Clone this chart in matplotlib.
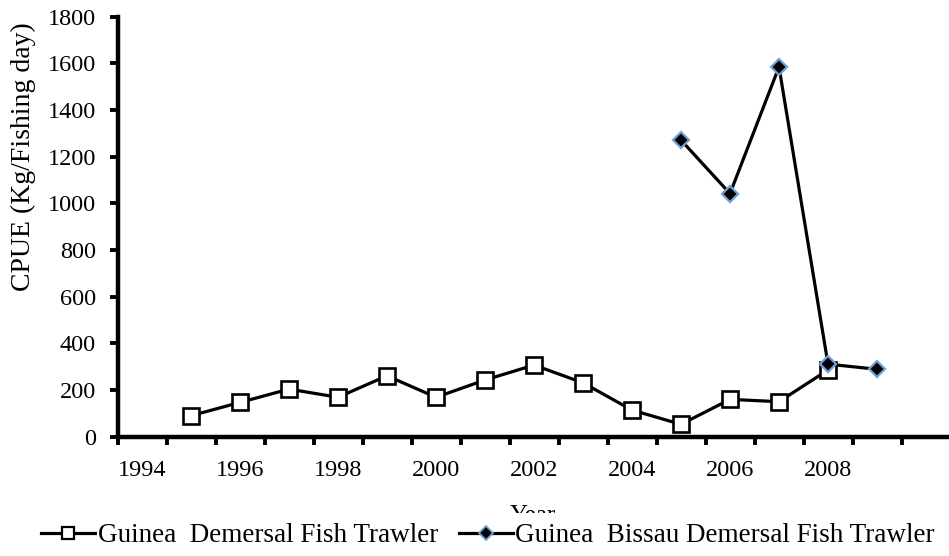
import matplotlib
matplotlib.use("Agg")
import matplotlib.pyplot as plt
from matplotlib.ticker import FixedLocator, NullFormatter
from matplotlib.lines import Line2D
from matplotlib.patches import Rectangle

plt.rcParams['font.family'] = ['Liberation Serif', 'DejaVu Serif']

years_guinea = [1995, 1996, 1997, 1998, 1999, 2000, 2001, 2002, 2003, 2004, 2005, 2006, 2007, 2008]
cpue_guinea = [90, 147, 204, 169, 261, 169, 243, 307, 231, 114, 53, 160, 150, 286]

years_bissau = [2005, 2006, 2007, 2008, 2009]
cpue_bissau = [1271, 1042, 1585, 311, 289]

label_guinea = "Guinea  Demersal Fish Trawler"
label_bissau = "Guinea  Bissau Demersal Fish Trawler"

xtick_labels = [1994, 1996, 1998, 2000, 2002, 2004, 2006, 2008]
ytick_values = [0, 200, 400, 600, 800, 1000, 1200, 1400, 1600, 1800]

W, H = 949, 556
fig = plt.figure(figsize=(W / 100, H / 100), dpi=100)
x0, x1 = 117.5, 949
y0, y1 = 556 - 436.7, 556 - 16.7
ax = fig.add_axes([x0 / W, y0 / H, (x1 - x0) / W, (y1 - y0) / H])

ax.plot(years_guinea, cpue_guinea, color='black', lw=2.3, marker='s', ms=11,
        mfc='white', mec='black', mew=1.9, label=label_guinea, zorder=3)
ax.plot(years_bissau, cpue_bissau, color='black', lw=2.3, marker='D', ms=8,
        mfc='black', mec='#6FA0D0', mew=1.6, label=label_bissau, zorder=4)

ax.set_xlim(1993.5, 1993.5 + (x1 - x0) / 49.0)
ax.set_ylim(0, 1800)
ax.set_yticks(ytick_values)
ax.set_xticks(xtick_labels)
ax.set_xticklabels([str(v) for v in xtick_labels])
ax.xaxis.set_minor_locator(FixedLocator([1993.5 + k for k in range(18)]))
ax.xaxis.set_minor_formatter(NullFormatter())
ax.tick_params(axis='x', which='major', length=0, pad=17, labelsize=17.5)
ax.tick_params(axis='x', which='minor', length=5.5, width=2.8, direction='out')
ax.tick_params(axis='y', which='major', length=5.5, width=2.8, direction='out', pad=10, labelsize=17.5)

for s in ['top', 'right']:
    ax.spines[s].set_visible(False)
for s in ['left', 'bottom']:
    ax.spines[s].set_linewidth(3.2)
    ax.spines[s].set_capstyle('projecting')

ax.set_ylabel("CPUE (Kg/Fishing day)", fontsize=20)
ax.yaxis.set_label_coords((36 - x0) / (x1 - x0), (436.7 - 157) / (436.7 - 16.7))

fig.text((x0 + x1) / 2 / W, 1 - 516 / H, "Year", ha='center', va='center', fontsize=18, zorder=3)
fig.patches.append(Rectangle((0, 0), 1, 1 - 513 / H, transform=fig.transFigure,
                             facecolor='white', edgecolor='none', zorder=4))

handles = [
    Line2D([], [], color='black', lw=2.3, marker='s', ms=9, mfc='white', mec='black', mew=1.6),
    Line2D([], [], color='black', lw=2.3, marker='D', ms=7, mfc='black', mec='#6FA0D0', mew=1.3),
]
leg = fig.legend(handles, [label_guinea, label_bissau], loc='center',
                 bbox_to_anchor=(488 / W, 1 - 536 / H), ncol=2, frameon=False,
                 fontsize=19.5, handlelength=2.0, handletextpad=0.1, columnspacing=0.75,
                 borderpad=0.0, borderaxespad=0)
leg.set_zorder(5)

fig.savefig("out.png", dpi=100)
